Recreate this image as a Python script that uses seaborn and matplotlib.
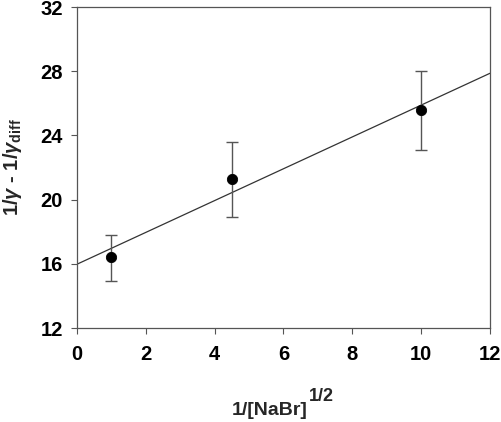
import numpy as np
import pandas as pd
import matplotlib
matplotlib.use('Agg')
import matplotlib.pyplot as plt
import seaborn as sns

# datos
x_vals = [1.0, 4.5, 10.0]
y_vals = [16.4, 21.3, 25.6]
err_low = [14.93, 18.93, 23.1]
err_high = [17.82, 23.6, 28.0]

fit_x = [0, 12]
fit_y = [15.97, 27.87]

x_ticks = [0, 2, 4, 6, 8, 10, 12]
y_ticks = [12, 16, 20, 24, 28, 32]

sns.set_style('ticks')
plt.rcParams['font.family'] = ['Liberation Sans', 'DejaVu Sans']
plt.rcParams['mathtext.fontset'] = 'custom'
plt.rcParams['mathtext.rm'] = 'Liberation Sans:bold'
plt.rcParams['mathtext.bf'] = 'Liberation Sans:bold'
plt.rcParams['mathtext.it'] = 'Liberation Sans:italic:bold'

df = pd.DataFrame({'x': x_vals, 'y': y_vals})
yerr = np.array([np.array(y_vals) - np.array(err_low), np.array(err_high) - np.array(y_vals)])

fig = plt.figure(figsize=(5.02, 4.22), dpi=100)
ax = fig.add_axes([0.153, 0.2227, 0.823, 0.7607])

sns.lineplot(x=fit_x, y=fit_y, ax=ax, color='#333333', linewidth=0.9)
ax.errorbar(x_vals, y_vals, yerr=yerr, fmt='none', ecolor='#555555', elinewidth=1.0,
            capsize=4.5, capthick=1.0)
sns.scatterplot(data=df, x='x', y='y', ax=ax, color='black', s=55, edgecolor='black', zorder=5)

ax.set_xlim(0, 12)
ax.set_ylim(12, 32)
ax.set_xticks(x_ticks)
ax.set_yticks(y_ticks)
ax.tick_params(direction='out', length=4, width=0.8, colors='#555555', labelcolor='black',
               labelsize=14.5)
ax.tick_params(axis='x', pad=8)
ax.tick_params(axis='y', pad=6)
for lab in ax.get_xticklabels() + ax.get_yticklabels():
    lab.set_fontweight('bold')
for s in ax.spines.values():
    s.set_color('#555555')
    s.set_linewidth(0.9)

ax.set_xlabel('')
fig.text(0.6135, 0.0166, '1/[NaBr]', fontsize=14, fontweight='bold', ha='right', va='baseline')
fig.text(0.6145, 0.050, '1/2', fontsize=13, fontweight='bold', ha='left', va='baseline')

ax.set_ylabel(r'1/$\gamma$ - 1/$\gamma_{\rm diff}$', fontsize=14.5, fontweight='bold')
ax.yaxis.set_label_coords(-0.128, 0.5)

plt.savefig('out.png', dpi=100)
plt.close()
